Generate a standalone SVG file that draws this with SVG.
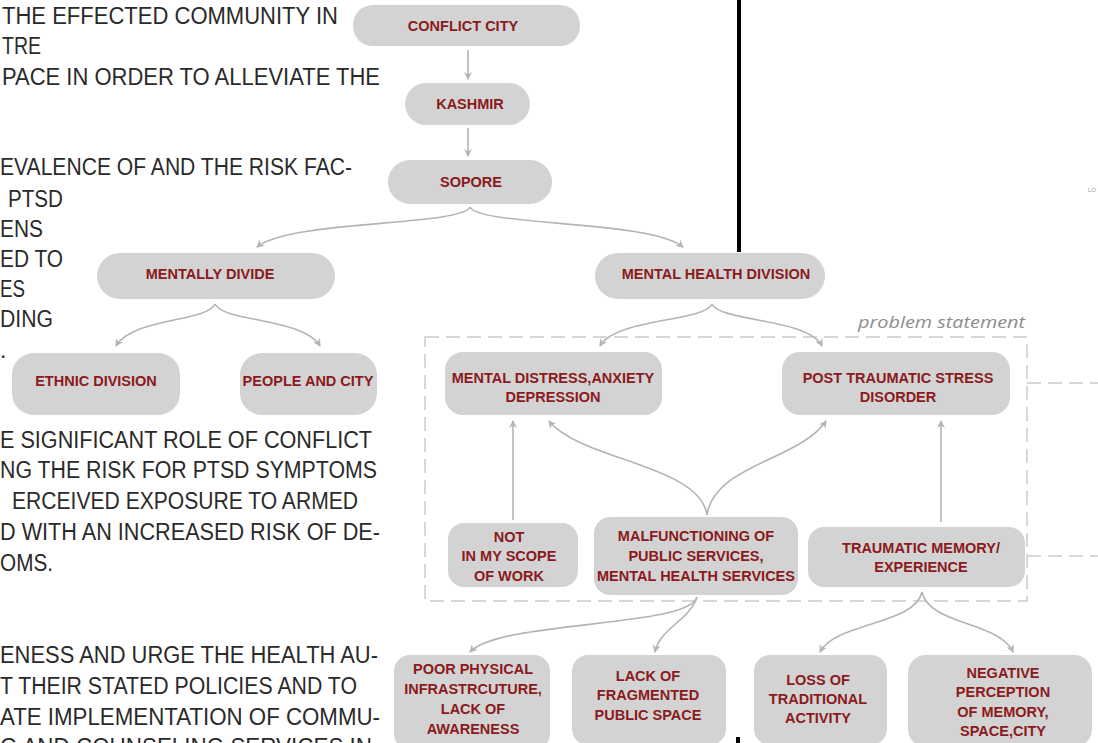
<svg xmlns="http://www.w3.org/2000/svg" width="1098" height="743" viewBox="0 0 1098 743">
<defs>
<style>
.body{font-family:"Liberation Sans",Arial,sans-serif;font-size:23px;fill:#2a2a2a;}
.node rect{fill:#d3d3d3;}
.lbl{font-family:"Liberation Sans",Arial,sans-serif;font-weight:bold;font-size:14.5px;fill:#8b1a20;text-anchor:middle;}
.conn{fill:none;stroke:#b4b4b4;stroke-width:1.6;marker-end:url(#ah);}
.dash{fill:none;stroke:#cacaca;stroke-width:1.5;stroke-dasharray:14 7;}
</style>
<marker id="ah" viewBox="0 0 8 8" refX="7" refY="4" markerWidth="8" markerHeight="8" markerUnits="userSpaceOnUse" orient="auto">
<path d="M0,0 L8,4 L0,8 L2.5,4 z" fill="#b4b4b4"/>
</marker>
</defs>
<rect width="1098" height="743" fill="#ffffff"/>

<g id="body-text">
<text class="body" x="2" y="24" textLength="336" lengthAdjust="spacingAndGlyphs">THE EFFECTED COMMUNITY IN</text>
<text class="body" x="2" y="54" textLength="39" lengthAdjust="spacingAndGlyphs">TRE</text>
<text class="body" x="2" y="85" textLength="378" lengthAdjust="spacingAndGlyphs">PACE IN ORDER TO  ALLEVIATE THE</text>
<text class="body" x="0" y="175" textLength="352" lengthAdjust="spacingAndGlyphs">EVALENCE OF AND THE RISK FAC-</text>
<text class="body" x="8" y="207" textLength="55" lengthAdjust="spacingAndGlyphs">PTSD</text>
<text class="body" x="0" y="237" textLength="43" lengthAdjust="spacingAndGlyphs">ENS</text>
<text class="body" x="0" y="267" textLength="63" lengthAdjust="spacingAndGlyphs">ED TO</text>
<text class="body" x="0" y="297" textLength="25" lengthAdjust="spacingAndGlyphs">ES</text>
<text class="body" x="0" y="327" textLength="53" lengthAdjust="spacingAndGlyphs">DING</text>
<text class="body" x="0" y="358" font-size="14">.</text>
<text class="body" x="0" y="448" textLength="372" lengthAdjust="spacingAndGlyphs">E SIGNIFICANT ROLE OF  CONFLICT</text>
<text class="body" x="0" y="478" textLength="377" lengthAdjust="spacingAndGlyphs">NG THE RISK FOR PTSD SYMPTOMS</text>
<text class="body" x="12" y="509" textLength="346" lengthAdjust="spacingAndGlyphs">ERCEIVED EXPOSURE TO ARMED</text>
<text class="body" x="0" y="540" textLength="380" lengthAdjust="spacingAndGlyphs">D WITH AN INCREASED RISK OF DE-</text>
<text class="body" x="0" y="571" textLength="53" lengthAdjust="spacingAndGlyphs">OMS.</text>
<text class="body" x="0" y="663" textLength="378" lengthAdjust="spacingAndGlyphs">ENESS AND URGE THE HEALTH AU-</text>
<text class="body" x="0" y="694" textLength="357" lengthAdjust="spacingAndGlyphs">T THEIR STATED POLICIES AND TO</text>
<text class="body" x="0" y="725" textLength="380" lengthAdjust="spacingAndGlyphs">ATE IMPLEMENTATION OF COMMU-</text>
<text class="body" x="0" y="755" textLength="372" lengthAdjust="spacingAndGlyphs">G AND COUNSELING SERVICES IN</text>
</g>

<g id="frame">
<rect x="737" y="0" width="4" height="252" fill="#000"/>
<rect x="736" y="737" width="4" height="6" fill="#000"/>
<text x="1088" y="192" font-family="Liberation Sans, sans-serif" font-size="6" fill="#999">LO</text>
</g>

<g id="problem-statement">
<rect class="dash" x="425" y="337" width="602" height="264"/>
<line class="dash" x1="1027" y1="383" x2="1098" y2="383"/>
<line class="dash" x1="1027" y1="556" x2="1098" y2="556"/>
<text x="1025" y="328" font-family="Open Sans, Liberation Sans, sans-serif" font-style="italic" font-size="17" fill="#8c8c8c" text-anchor="end" textLength="167" lengthAdjust="spacingAndGlyphs">problem statement</text>
</g>

<g id="connectors">
<path class="conn" d="M468,50 L468,79"/>
<path class="conn" d="M468,128 L468,156"/>
<path class="conn" d="M470,207 C462,226 290,220 257,247"/>
<path class="conn" d="M470,207 C478,226 650,220 683,247"/>
<path class="conn" d="M215,304 C207,322 132,318 116,346"/>
<path class="conn" d="M215,304 C223,322 304,318 320,346"/>
<path class="conn" d="M712,304 C704,322 616,318 600,346"/>
<path class="conn" d="M712,304 C720,322 808,318 822,346"/>
<path class="conn" d="M513,520 L513,421"/>
<path class="conn" d="M941,522 L941,421"/>
<path class="conn" d="M707,515 C700,465 580,460 549,421"/>
<path class="conn" d="M707,515 C714,465 800,460 826,421"/>
<path class="conn" d="M697,597 C688,628 500,620 470,652"/>
<path class="conn" d="M697,597 C690,620 660,628 655,652"/>
<path class="conn" d="M922,592 C915,625 836,622 820,652"/>
<path class="conn" d="M922,592 C929,625 1000,622 1013,652"/>
</g>

<g id="n-conflict-city" class="node"><rect x="353" y="5" width="227" height="41" rx="20"/><text class="lbl" x="463" y="31">CONFLICT CITY</text></g>
<g id="n-kashmir" class="node"><rect x="405" y="83" width="125" height="42" rx="21"/><text class="lbl" x="470" y="109">KASHMIR</text></g>
<g id="n-sopore" class="node"><rect x="388" y="160" width="164" height="44" rx="22"/><text class="lbl" x="471" y="187">SOPORE</text></g>
<g id="n-mentally-divide" class="node"><rect x="97" y="253" width="238" height="46" rx="23"/><text class="lbl" x="210" y="279">MENTALLY DIVIDE</text></g>
<g id="n-mental-health-division" class="node"><rect x="595" y="253" width="230" height="46" rx="23"/><text class="lbl" x="716" y="279">MENTAL HEALTH DIVISION</text></g>
<g id="n-ethnic-division" class="node"><rect x="12" y="353" width="168" height="62" rx="22"/><text class="lbl" x="96" y="386">ETHNIC DIVISION</text></g>
<g id="n-people-city" class="node"><rect x="240" y="353" width="137" height="62" rx="22"/><text class="lbl" x="308" y="386">PEOPLE AND CITY</text></g>
<g id="n-mental-distress" class="node"><rect x="445" y="352" width="217" height="63" rx="18"/><text class="lbl" x="553" y="383">MENTAL DISTRESS,ANXIETY</text><text class="lbl" x="553" y="402">DEPRESSION</text></g>
<g id="n-ptsd" class="node"><rect x="782" y="352" width="228" height="63" rx="18"/><text class="lbl" x="898" y="383">POST TRAUMATIC STRESS</text><text class="lbl" x="898" y="402">DISORDER</text></g>
<g id="n-not-scope" class="node"><rect x="448" y="523" width="130" height="64" rx="16"/><text class="lbl" x="509" y="542">NOT</text><text class="lbl" x="509" y="561">IN  MY SCOPE</text><text class="lbl" x="509" y="581">OF WORK</text></g>
<g id="n-malfunctioning" class="node"><rect x="594" y="517" width="204" height="78" rx="16"/><text class="lbl" x="696" y="541">MALFUNCTIONING OF</text><text class="lbl" x="696" y="561">PUBLIC SERVICES,</text><text class="lbl" x="696" y="581">MENTAL HEALTH SERVICES</text></g>
<g id="n-traumatic-memory" class="node"><rect x="808" y="527" width="217" height="60" rx="16"/><text class="lbl" x="921" y="553">TRAUMATIC MEMORY/</text><text class="lbl" x="921" y="572">EXPERIENCE</text></g>
<g id="n-poor-physical" class="node"><rect x="394" y="655" width="156" height="95" rx="16"/><text class="lbl" x="473" y="674">POOR PHYSICAL</text><text class="lbl" x="473" y="694">INFRASTRCUTURE,</text><text class="lbl" x="473" y="714">LACK OF</text><text class="lbl" x="473" y="734">AWARENESS</text></g>
<g id="n-lack-public-space" class="node"><rect x="572" y="655" width="154" height="90" rx="16"/><text class="lbl" x="648" y="681">LACK OF</text><text class="lbl" x="648" y="700">FRAGMENTED</text><text class="lbl" x="648" y="720">PUBLIC SPACE</text></g>
<g id="n-loss-traditional" class="node"><rect x="754" y="655" width="133" height="90" rx="16"/><text class="lbl" x="818" y="685">LOSS OF</text><text class="lbl" x="818" y="704">TRADITIONAL</text><text class="lbl" x="818" y="723">ACTIVITY</text></g>
<g id="n-negative-perception" class="node"><rect x="908" y="655" width="184" height="92" rx="18"/><text class="lbl" x="1003" y="678">NEGATIVE</text><text class="lbl" x="1003" y="697">PERCEPTION</text><text class="lbl" x="1003" y="717">OF MEMORY,</text><text class="lbl" x="1003" y="736">SPACE,CITY</text></g>
</svg>
